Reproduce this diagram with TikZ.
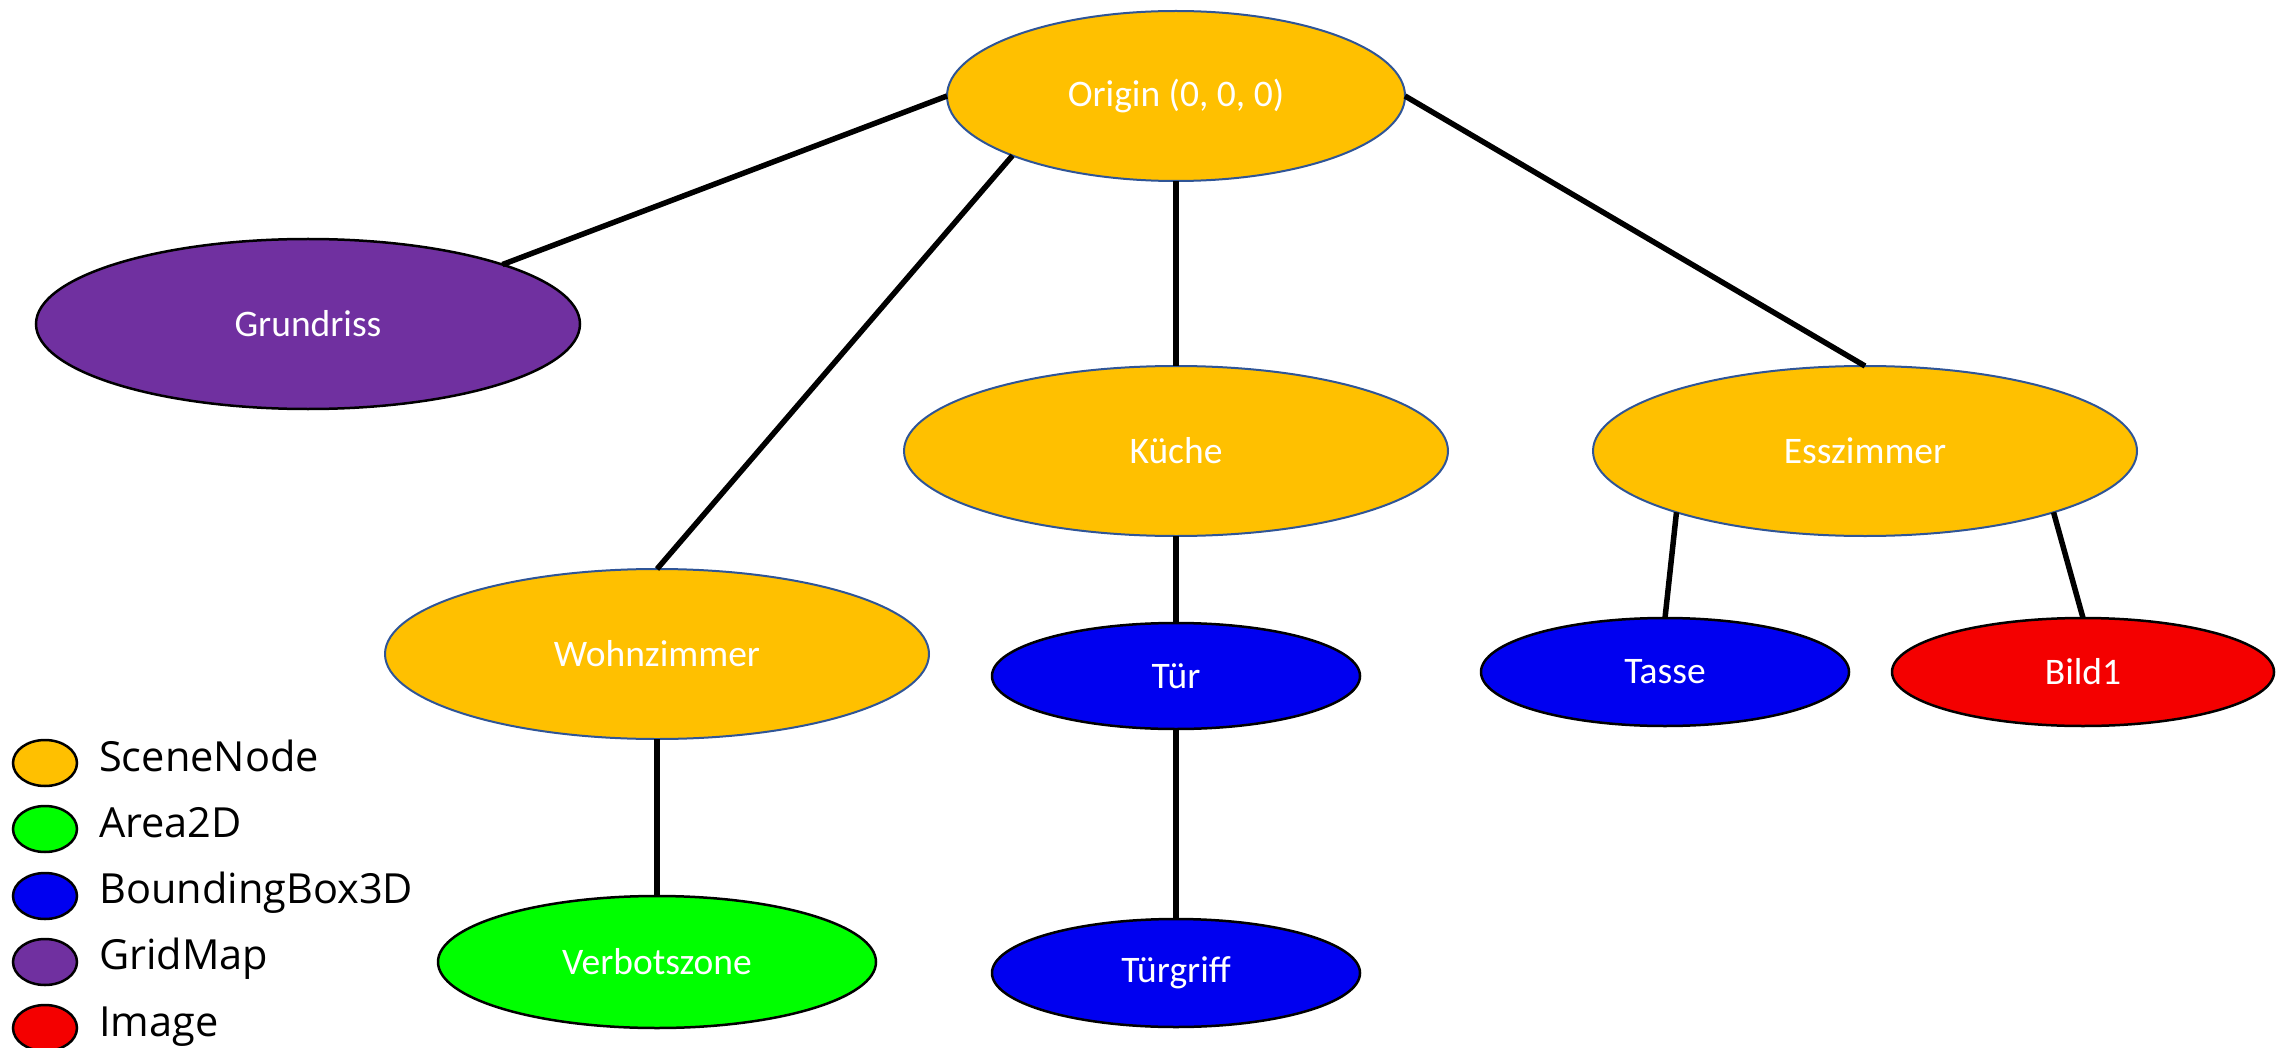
\documentclass[tikz,border=0pt]{standalone}
\usepackage{fontspec}
\setmainfont{Carlito}
\newfontfamily\legendfont{Open Sans}
\usetikzlibrary{shapes.geometric}
\definecolor{scene}{HTML}{FFC000}
\definecolor{scenebd}{HTML}{2F5597}
\definecolor{areac}{HTML}{00FF00}
\definecolor{bboxc}{HTML}{0000F0}
\definecolor{gridc}{HTML}{7030A0}
\definecolor{imgc}{HTML}{F40000}
\tikzset{
  ell/.style={ellipse, inner sep=0pt, outer sep=0pt, text=white, font=\fontsize{37.5}{42}\selectfont},
  scenenode/.style={ell, fill=scene, draw=scenebd, line width=2pt},
  areanode/.style={ell, fill=areac, draw=black, line width=2.5pt},
  bboxnode/.style={ell, fill=bboxc, draw=black, line width=2.5pt},
  gridnode/.style={ell, fill=gridc, draw=black, line width=2.5pt},
  imgnode/.style={ell, fill=imgc, draw=black, line width=2.5pt},
  conn/.style={line width=5.5pt, black},
  legell/.style={ellipse, inner sep=0pt, outer sep=0pt, minimum width=64pt, minimum height=46pt, draw=black, line width=2.5pt},
  legtext/.style={anchor=base west, inner sep=0pt, font=\legendfont\fontsize{41.5}{46}\selectfont}
}
\begin{document}
\begin{tikzpicture}[x=1pt,y=-1pt]
\useasboundingbox (0,0) rectangle (2290,1048);
% tree nodes
\node[scenenode, minimum width=458pt, minimum height=170pt] (origin) at (1176,96) {Origin (0, 0, 0)};
\node[gridnode, minimum width=544pt, minimum height=170pt] (grund) at (308,324) {Grundriss};
\node[scenenode, minimum width=544pt, minimum height=170pt] (kueche) at (1176,451) {Küche};
\node[scenenode, minimum width=544pt, minimum height=170pt] (ess) at (1865,451) {Esszimmer};
\node[scenenode, minimum width=544pt, minimum height=170pt] (wohn) at (657,654) {Wohnzimmer};
\node[bboxnode, minimum width=368pt, minimum height=106pt] (tuer) at (1176,676) {Tür};
\node[bboxnode, minimum width=368pt, minimum height=108pt] (tasse) at (1665,672) {Tasse};
\node[imgnode, minimum width=382pt, minimum height=108pt] (bild) at (2083,672) {Bild1};
\node[areanode, minimum width=438pt, minimum height=132pt] (verbot) at (657,962) {Verbotszone};
\node[bboxnode, minimum width=368pt, minimum height=108pt] (griff) at (1176,973) {Türgriff};
% connectors
\draw[conn] (origin.west) -- (grund.17);
\draw[conn] (origin.200) -- (wohn.north);
\draw[conn] (origin.south) -- (kueche.north);
\draw[conn] (origin.east) -- (ess.north);
\draw[conn] (kueche.south) -- (tuer.north);
\draw[conn] (wohn.south) -- (verbot.north);
\draw[conn] (tuer.south) -- (griff.north);
\draw[conn] (ess.198) -- (tasse.north);
\draw[conn] (ess.-18) -- (bild.north);
% legend
\node[legell, fill=scene] (l1) at (45,763) {};
\node[legell, fill=areac] (l2) at (45,829) {};
\node[legell, fill=bboxc] (l3) at (45,896) {};
\node[legell, fill=gridc] (l4) at (45,962) {};
\node[legell, fill=imgc] (l5) at (45,1028) {};
\node[legtext] (t1) at (99,771) {SceneNode};
\node[legtext] (t2) at (99,837) {Area2D};
\node[legtext] (t3) at (99,903) {BoundingBox3D};
\node[legtext] (t4) at (99,969) {GridMap};
\node[legtext] (t5) at (99,1036) {Image};
\end{tikzpicture}
\end{document}
